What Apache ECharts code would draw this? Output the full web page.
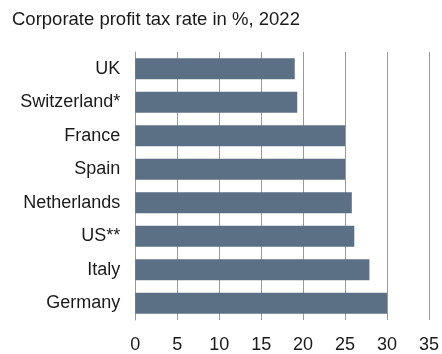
<!DOCTYPE html>
<html>
<head>
<meta charset="utf-8">
<script src="https://cdn.jsdelivr.net/npm/echarts@6/dist/echarts.min.js"></script>
<style>
  html, body { margin: 0; padding: 0; background: #fff; }
  #chart { width: 442px; height: 354px; }
</style>
</head>
<body>
<div id="chart"></div>
<script>
// Corporate profit tax rates by country, 2022 (top to bottom as listed)
const countries = ['UK', 'Switzerland*', 'France', 'Spain', 'Netherlands', 'US**', 'Italy', 'Germany'];
const taxRates = [19.0, 19.3, 25.0, 25.0, 25.8, 26.1, 27.9, 30.0];
const xTicks = [0, 5, 10, 15, 20, 25, 30, 35];

const chart = echarts.init(document.getElementById('chart'), null, { renderer: 'canvas' });

const font = 'Arial, "Liberation Sans", sans-serif';

chart.setOption({
  animation: false,
  title: {
    text: 'Corporate profit tax rate in %, 2022',
    left: 12,
    top: 10,
    padding: 0,
    textStyle: { fontFamily: font, fontSize: 18.5, fontWeight: 'normal', color: '#1a1a1a' }
  },
  grid: { left: 135.3, right: 10.7, top: 52, bottom: 32, containLabel: false },
  xAxis: {
    type: 'value',
    min: xTicks[0],
    max: xTicks[xTicks.length - 1],
    interval: xTicks[1] - xTicks[0],
    axisLine: { show: false },
    axisTick: { show: false },
    axisLabel: { margin: 16, fontFamily: font, fontSize: 18, color: '#1a1a1a' },
    splitLine: { show: true, lineStyle: { color: '#999', width: 1 } }
  },
  yAxis: {
    type: 'category',
    data: countries,
    inverse: true,
    axisLine: { show: true, lineStyle: { color: '#999', width: 1 } },
    axisTick: { show: false },
    axisLabel: { margin: 15, fontFamily: font, fontSize: 18, color: '#1a1a1a' }
  },
  series: [{
    type: 'bar',
    data: taxRates,
    barCategoryGap: '38%',
    itemStyle: { color: '#5b7085' }
  }]
});
</script>
</body>
</html>
